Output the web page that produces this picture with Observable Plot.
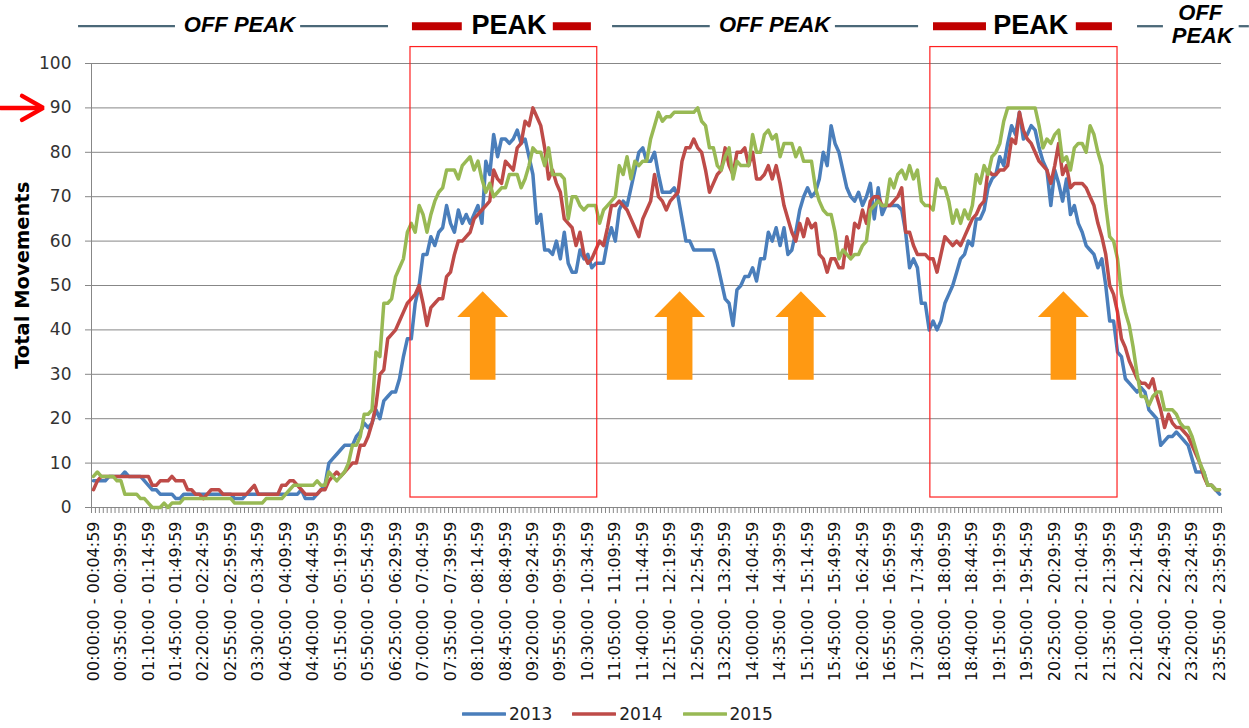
<!DOCTYPE html>
<html>
<head>
<meta charset="utf-8">
<script src="https://cdn.jsdelivr.net/npm/d3@7"></script>
<script src="https://cdn.jsdelivr.net/npm/@observablehq/plot@0.6"></script>
<style>
  body { margin: 0; background: #fff; }
  #chart svg { display: block; }
  #legend { height: 28px; display: flex; align-items: center; margin-left: 462px;
            font-family: "DejaVu Sans", sans-serif; font-size: 17px; color: #222; }
  #legend .item { display: flex; align-items: center; margin-right: 20px; }
  #legend svg { margin-right: 3px; }
</style>
</head>
<body>
<div id="chart"></div>
<div id="legend"></div>
<script>
// ---------- data ----------
const years = ["2013", "2014", "2015"];
const yearColors = ["#4a7ebb", "#be4b48", "#98b954"];

// Total movements per 5-minute slot (288 slots, 00:00 → 23:55)
const v2013 = [
  6,6,6,6,7,7,7,7,8,7, 7,7,7,6,5,4,4,3,3,3, 3,2,2,3,3,3,3,3,3,3, 3,3,3,3,3,3,2,2,2,3,
  3,3,3,3,3,3,3,3,3,3, 3,3,3,4,2,2,2,3,4,5, 10,11,12,13,14,14,14,16,17,19, 18,19,22,20,24,25,26,26,29,34,
  38,38,46,50,57,57,61,59,62,63, 68,64,62,67,64,66,64,66,68,64, 78,75,84,79,83,83,82,83,85,82, 83,79,75,64,66,58,58,57,60,56,
  62,55,53,53,58,56,57,54,55,55, 55,60,63,60,67,69,68,72,76,80, 81,78,78,80,75,71,71,71,72,70, 65,60,60,58,58,58,58,58,58,55,
  51,47,46,41,49,50,52,52,54,51, 56,56,62,60,63,59,63,57,58,62, 67,70,72,70,71,74,80,77,86,82, 80,76,72,70,69,71,68,70,73,65,
  72,66,68,68,68,68,67,62,54,56, 54,46,46,40,42,40,42,46,48,50, 53,56,57,60,59,65,65,67,72,74, 75,79,77,82,86,84,89,83,84,86,
  85,81,78,76,68,76,73,69,74,66, 68,64,62,59,58,57,54,56,50,42, 42,35,34,29,28,27,26,27,26,22, 21,20,14,15,16,16,17,16,15,14,
  11,8,8,8,5,5,4,3
];
const v2014 = [
  4,6,7,7,7,7,7,7,7,7, 7,7,7,7,7,5,5,6,6,6, 7,6,6,6,4,4,3,3,2,3, 4,4,4,3,3,3,3,3,3,3,
  4,5,3,3,3,3,3,3,5,5, 6,6,5,4,3,3,3,3,4,4, 6,7,8,7,8,9,10,10,14,14, 16,19,23,30,31,38,39,40,42,44,
  46,47,48,50,46,41,45,46,47,47, 52,53,57,60,60,61,62,65,66,67, 68,69,76,74,73,78,77,76,81,82, 87,86,90,88,86,81,74,76,73,71,
  65,64,63,59,62,57,55,56,58,60, 59,63,68,68,69,68,67,65,63,61, 65,67,69,75,70,69,67,69,70,71, 78,81,81,83,81,80,76,71,73,75,
  76,81,77,75,80,80,81,77,80,74, 74,75,77,74,77,73,68,65,62,60, 64,61,65,63,64,57,56,53,56,56, 54,54,61,57,64,63,67,64,69,70,
  70,68,68,68,69,70,72,62,62,59, 57,57,57,56,56,53,57,61,60,59, 60,59,61,63,65,66,68,69,76,75, 75,76,76,77,83,82,89,85,83,82,
  80,78,77,76,73,77,82,75,77,72, 73,73,73,72,70,68,64,61,57,50, 48,44,38,36,33,31,29,28,28,27, 29,25,22,18,21,19,18,18,17,16,
  14,12,10,7,5,5,4,4
];
const v2015 = [
  7,8,7,7,7,7,6,6,3,3, 3,3,2,2,1,0,0,0,1,0, 1,1,1,2,2,2,2,2,2,2, 2,2,2,2,2,2,1,1,1,1,
  1,1,1,1,2,2,2,2,2,3, 4,5,5,5,5,5,5,6,5,5, 8,7,6,7,8,10,14,14,16,21, 21,22,35,34,46,46,47,52,54,56,
  62,64,62,68,66,62,66,69,71,72, 76,76,76,74,77,78,79,76,78,74, 71,73,70,71,72,72,75,75,75,72, 74,77,81,80,80,77,81,75,75,75,
  74,65,70,70,68,67,68,68,68,64, 67,68,69,70,77,75,79,74,78,77, 78,78,83,86,89,87,88,88,89,89, 89,89,89,89,90,87,86,81,81,77,
  76,79,81,74,78,77,77,77,84,80, 80,84,85,83,84,79,82,82,82,79, 81,78,78,78,72,69,67,66,66,62, 56,58,57,56,57,57,59,60,67,68,
  69,68,68,74,72,75,76,74,77,74, 76,69,68,68,67,74,72,72,69,64, 67,64,67,65,68,75,73,77,75,79, 80,82,87,90,90,90,90,90,90,90,
  90,86,81,83,82,84,85,78,79,76, 81,82,82,80,86,84,80,77,68,61, 60,56,48,44,41,36,30,25,25,23, 25,26,26,22,22,22,21,19,18,18,
  16,13,10,8,5,5,4,4
];
const seriesValues = [v2013, v2014, v2015];

// time-slot categories and the slots that carry a tick label (every 7th)
const pad = n => String(n).padStart(2, "0");
const slotLabel = i => {
  const t = i * 5, h = Math.floor(t / 60), m = t % 60;
  return `${pad(h)}:${pad(m)}:00 - ${pad(h)}:${pad(m + 4)}:59`;
};
const slots = d3.range(288);
const labelledSlots = slots.filter(i => i % 7 === 0);
const yTicks = d3.range(0, 101, 10);

// annotations (in slot units)
const peakBoxes = [{from: 80.8, to: 128.4}, {from: 213.3, to: 261.0}];
const arrowSlots = [99.2, 149.4, 180.3, 247.2];
const offPeakRules = [[-3.8, 20.9], [52.8, 75.2], [132.3, 157.2], [189.1, 210.3], [266.1, 272.7], [292.0, 294.6]];
const peakBars = [[81.3, 94.0], [117.2, 126.9], [214.1, 227.6], [250.5, 259.7]];
const offPeakLabels = [{slot: 37.2, text: "OFF PEAK"}, {slot: 173.6, text: "OFF PEAK"}];
const peakLabels = [{slot: 105.9, text: "PEAK"}, {slot: 238.9, text: "PEAK"}];
const stackedLabels = [{slot: 282.1, level: 111.4, text: "OFF"}, {slot: 282.6, level: 106.1, text: "PEAK"}];
const pointerLevel = 90;

// ---------- build tables ----------
const rows = years.flatMap((year, k) => seriesValues[k].map((value, slot) => ({year, slot, value})));
const arrowPts = arrowSlots.flatMap((c, id) => [
  [c - 3.26, 28.8], [c - 3.26, 42.9], [c - 6.5, 42.9], [c, 48.7],
  [c + 6.5, 42.9], [c + 3.26, 42.9], [c + 3.26, 28.8]
].map(([x, y]) => ({id, x, y})));
const pointerPts = [
  {id: 0, x: -23.7, y: pointerLevel}, {id: 0, x: -13.2, y: pointerLevel},
  {id: 1, x: -18.2, y: pointerLevel + 2.7}, {id: 1, x: -12.8, y: pointerLevel}, {id: 1, x: -18.2, y: pointerLevel - 2.7}
];

const headerY = 108.4;
const chart = Plot.plot({
  width: 1249,
  height: 700,
  marginTop: 63,
  marginLeft: 91,
  marginRight: 28,
  marginBottom: 193,
  x: {type: "linear", domain: [-0.5, 287.5]},
  y: {domain: [0, 100]},
  color: {domain: years, range: yearColors},
  style: {fontFamily: "DejaVu Sans, sans-serif", fontSize: "16px", color: "#222", background: "#fff", overflow: "visible"},
  marks: [
    Plot.gridY(yTicks.filter(d => d > 0), {stroke: "#878787", strokeOpacity: 1, strokeWidth: 1}),
    Plot.ruleX([-0.5], {stroke: "#878787"}),
    Plot.ruleY([0], {stroke: "#878787"}),
    Plot.axisY({ticks: yTicks, tickSize: 6, tickPadding: 14, stroke: "#878787", fill: "#333", fontSize: 17, label: null}),
    Plot.axisX({ticks: d3.range(-0.5, 288, 1), tickSize: 6, tickFormat: () => "", stroke: "#878787", label: null}),
    Plot.axisX({ticks: labelledSlots, tickSize: 0, tickPadding: 14, tickRotate: -90, tickFormat: slotLabel, fontSize: 16, fill: "#111", label: null}),
    Plot.text(["Total Movements"], {text: d => d, frameAnchor: "left", textAnchor: "middle", y: () => 52.3, dx: -69, rotate: -90, fontWeight: "bold", fontSize: 19.5, fill: "#000"}),
    // orange arrows
    Plot.line(arrowPts, {x: "x", y: "y", z: "id", fill: "#ff9912", stroke: "none", curve: "linear"}),
    // series
    Plot.line(rows, {x: "slot", y: "value", z: "year", stroke: "year", strokeWidth: 3.5, strokeLinejoin: "round", strokeLinecap: "round"}),
    // peak boxes
    Plot.rect(peakBoxes, {x1: "from", x2: "to", y1: () => 2.25, y2: () => 103.7, fill: "none", stroke: "#ff2020", strokeWidth: 1.2}),
    // header
    Plot.ruleY(offPeakRules, {y: () => headerY, x1: d => d[0], x2: d => d[1], stroke: "#4b6878", strokeWidth: 2.3}),
    Plot.ruleY(peakBars, {y: () => headerY, x1: d => d[0], x2: d => d[1], stroke: "#c00000", strokeWidth: 8}),
    Plot.text(offPeakLabels, {x: "slot", y: () => 108.7, text: "text", fontFamily: "Liberation Sans, Arial, sans-serif", fontWeight: "bold", fontStyle: "italic", fontSize: 22, fill: "#000"}),
    Plot.text(stackedLabels, {x: "slot", y: "level", text: "text", fontFamily: "Liberation Sans, Arial, sans-serif", fontWeight: "bold", fontStyle: "italic", fontSize: 22, fill: "#000"}),
    Plot.text(peakLabels, {x: "slot", y: () => 108.6, text: "text", fontFamily: "Liberation Sans, Arial, sans-serif", fontWeight: "bold", fontSize: 27, fill: "#000"}),
    // red pointer at 90
    Plot.line(pointerPts, {x: "x", y: "y", z: "id", stroke: "#ff0000", strokeWidth: 4.5, strokeLinecap: "round", strokeLinejoin: "miter"})
  ]
});
document.getElementById("chart").append(chart);

// legend
const legend = document.getElementById("legend");
years.forEach((y, k) => {
  const item = document.createElement("div");
  item.className = "item";
  item.innerHTML = `<svg width="44" height="8"><line x1="1" y1="4" x2="43" y2="4" stroke="${yearColors[k]}" stroke-width="3.5" stroke-linecap="round"/></svg><span>${y}</span>`;
  legend.append(item);
});
</script>
</body>
</html>
